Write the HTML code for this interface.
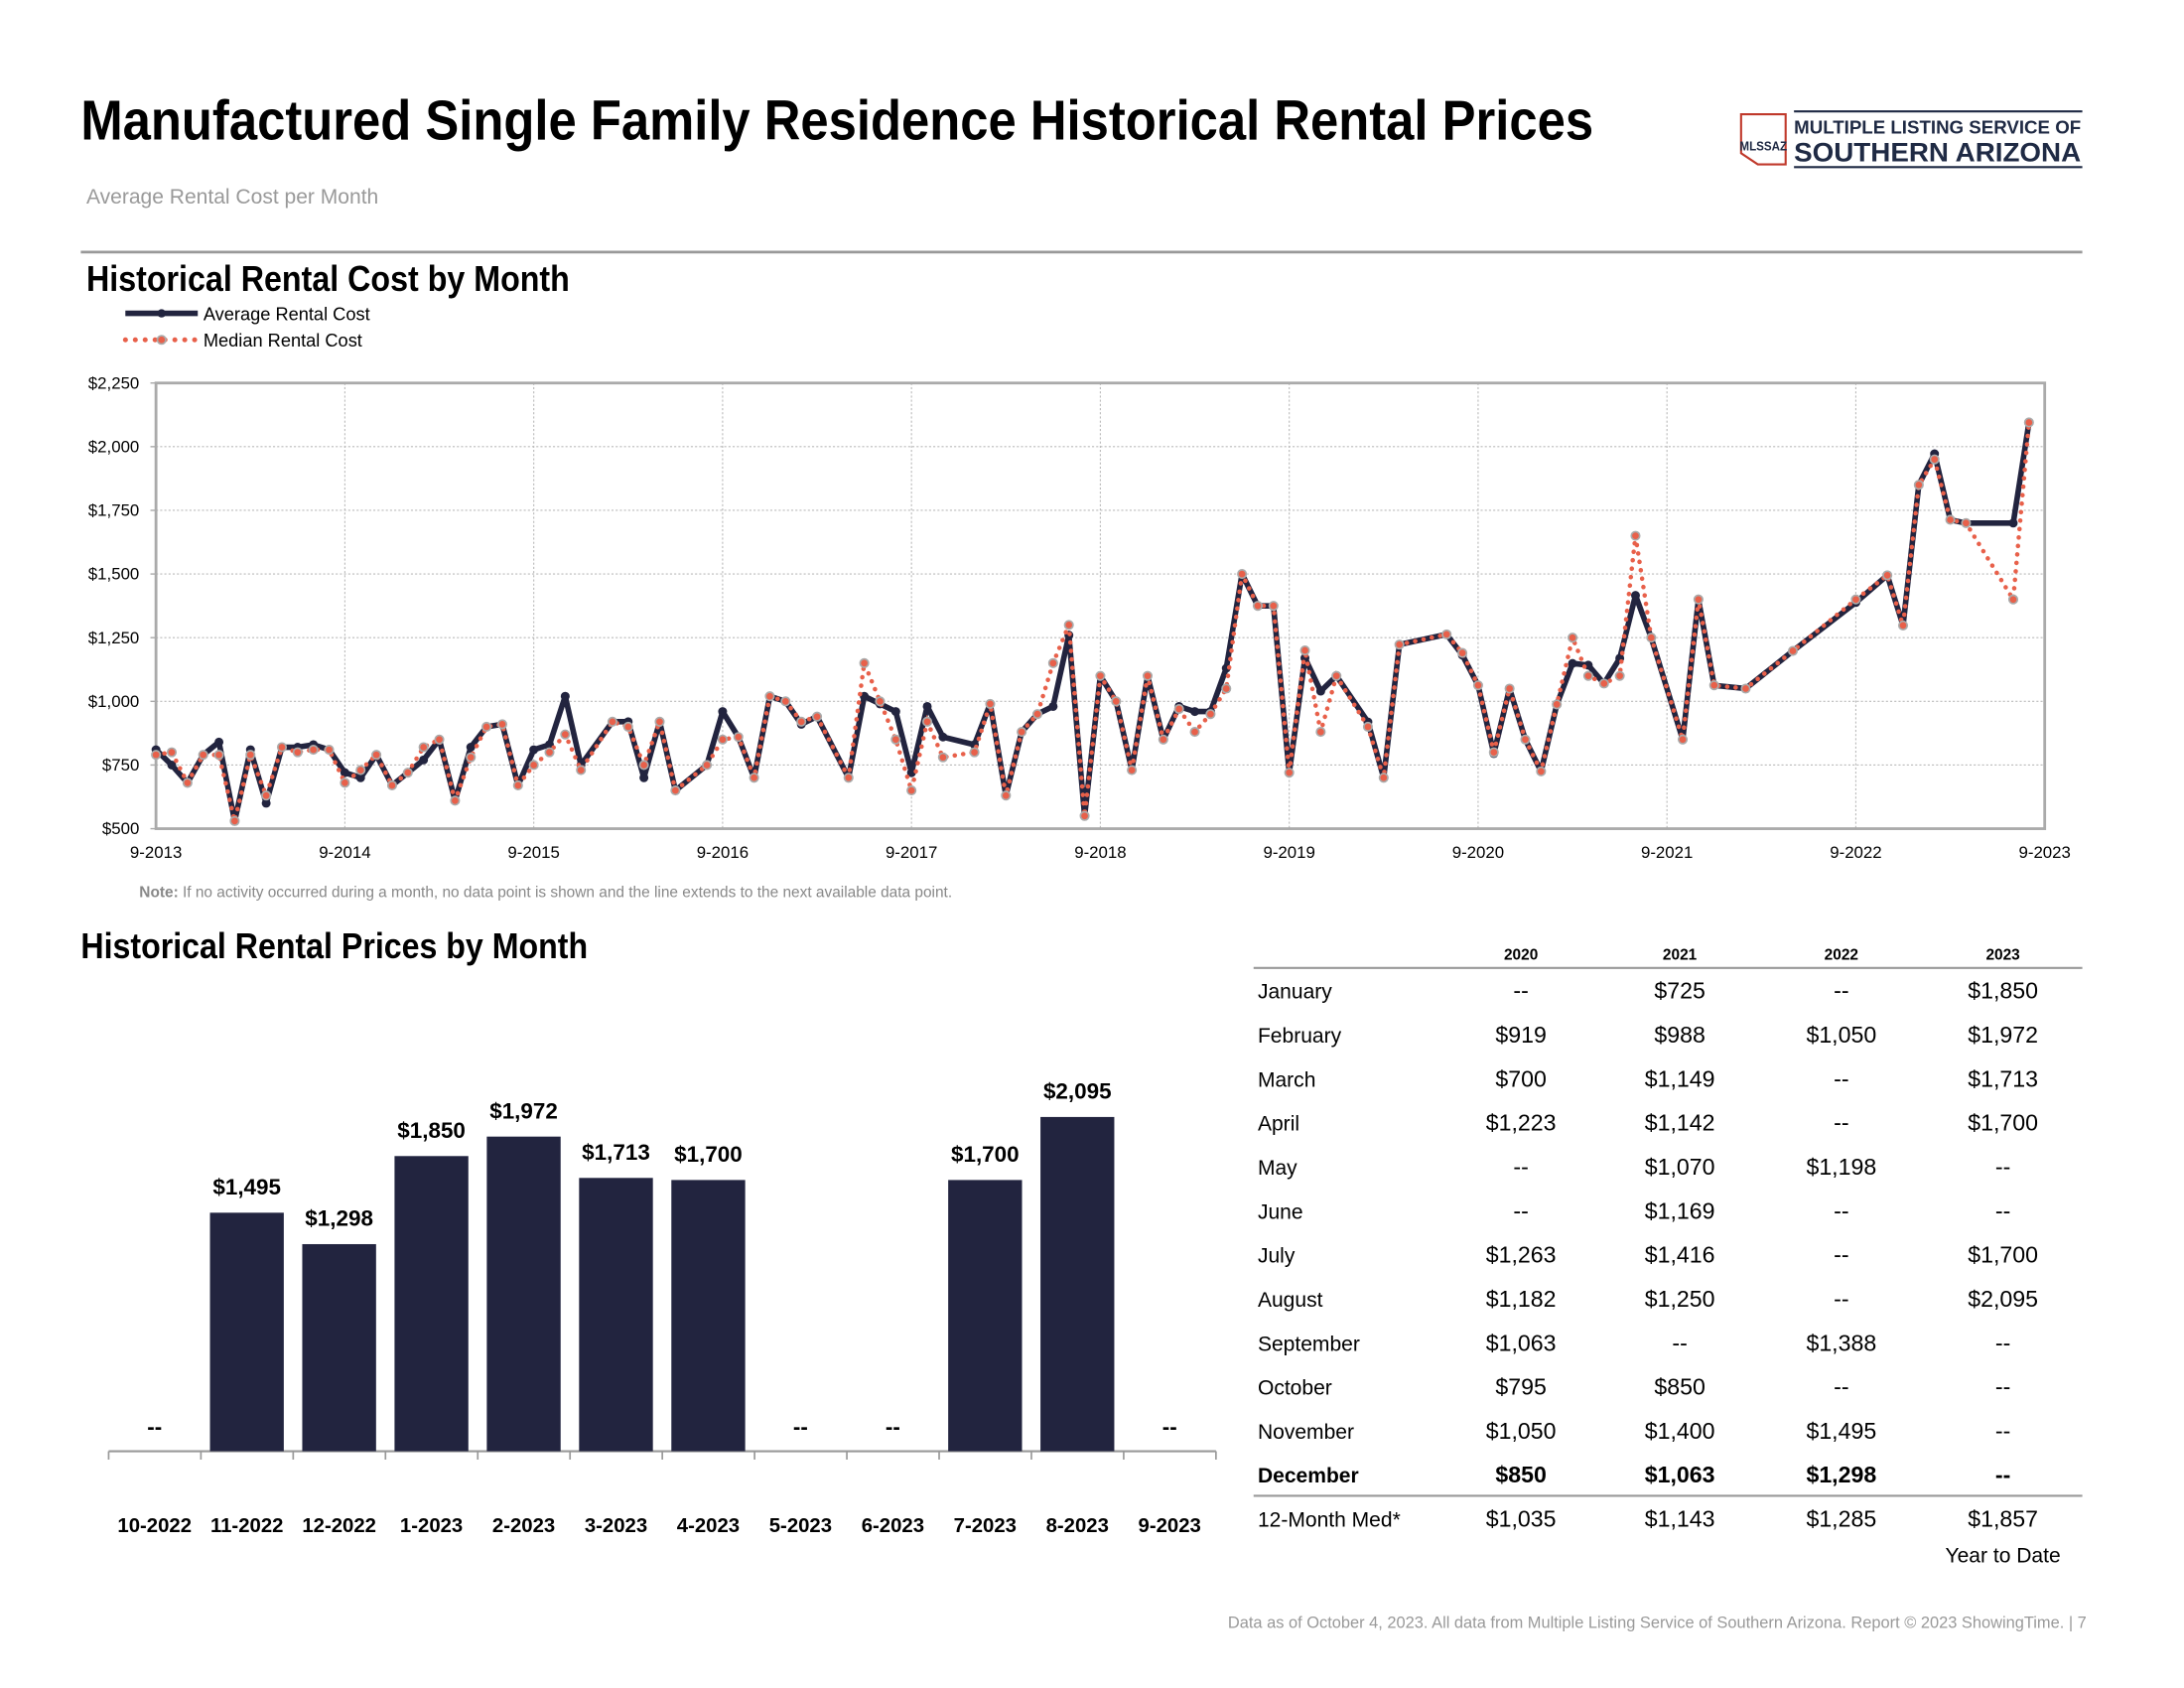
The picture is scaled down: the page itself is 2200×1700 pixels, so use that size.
<!DOCTYPE html>
<html><head><meta charset="utf-8"><style>
html,body{margin:0;padding:0;background:#fff;}
svg{display:block;font-family:"Liberation Sans",sans-serif;}
</style></head><body>
<svg id="s" width="2200" height="1700" viewBox="0 0 1568 1212" preserveAspectRatio="none" xmlns="http://www.w3.org/2000/svg">
<text x="58" y="100" font-size="40" font-weight="bold" font-family="'Liberation Sans Narrow','Liberation Sans',sans-serif" textLength="1086" lengthAdjust="spacingAndGlyphs" fill="#000">Manufactured Single Family Residence Historical Rental Prices</text>
<text x="62" y="146" font-size="15" fill="#999">Average Rental Cost per Month</text>
<g>
<path d="M1250 82 L1282 82 L1282 118 L1262 118 L1250 110 Z" fill="none" stroke="#c0392b" stroke-width="1.5"/>
<text x="1249" y="108" font-size="9" font-weight="bold" fill="#1f2a44" textLength="34" lengthAdjust="spacingAndGlyphs">MLSSAZ</text>
<text x="1288" y="96" font-size="13" font-weight="bold" fill="#1f2a44" textLength="206" lengthAdjust="spacingAndGlyphs">MULTIPLE LISTING SERVICE OF</text>
<text x="1288" y="116" font-size="19" font-weight="bold" fill="#1f2a44" textLength="206" lengthAdjust="spacingAndGlyphs">SOUTHERN ARIZONA</text>
<line x1="1288" y1="80" x2="1495" y2="80" stroke="#1f2a44" stroke-width="1.5"/>
<line x1="1288" y1="120" x2="1495" y2="120" stroke="#1f2a44" stroke-width="1.5"/>
</g>
<line x1="58" y1="181" x2="1495" y2="181" stroke="#999" stroke-width="2"/>
<text x="62" y="209" font-size="26" font-weight="bold" font-family="'Liberation Sans Narrow','Liberation Sans',sans-serif" textLength="347" lengthAdjust="spacingAndGlyphs">Historical Rental Cost by Month</text>
<line x1="90" y1="225" x2="142" y2="225" stroke="#22243f" stroke-width="4"/>
<circle cx="116" cy="225" r="3" fill="#22243f"/>
<text x="146" y="230" font-size="13">Average Rental Cost</text>
<line x1="90" y1="244" x2="142" y2="244" stroke="#e8604a" stroke-width="3.5" stroke-dasharray="0.1 7" stroke-linecap="round"/>
<circle cx="116" cy="244" r="3" fill="#e8604a" stroke="#aaa" stroke-width="1.2"/>
<text x="146" y="249" font-size="13">Median Rental Cost</text>
<g id="chart"></g>
<text x="100" y="644" font-size="11" fill="#888"><tspan font-weight="bold">Note:</tspan> If no activity occurred during a month, no data point is shown and the line extends to the next available data point.</text>
<text x="58" y="688" font-size="26" font-weight="bold" font-family="'Liberation Sans Narrow','Liberation Sans',sans-serif" textLength="364" lengthAdjust="spacingAndGlyphs">Historical Rental Prices by Month</text>
<g id="bars"></g>
<g id="table" font-size="15.5"></g>
<text x="1498" y="1169" font-size="11.7" fill="#999" text-anchor="end">Data as of October 4, 2023. All data from Multiple Listing Service of Southern Arizona. Report © 2023 ShowingTime.  |  7</text>
</svg>
<script>
const NS="http://www.w3.org/2000/svg";
function el(p,t,a,txt){const e=document.createElementNS(NS,t);for(const k in a)e.setAttribute(k,a[k]);if(txt!=null)e.textContent=txt;p.appendChild(e);return e;}
const ch=document.getElementById('chart');
const X0=112,X1=1468,Y0=595,Y1=275;
const xm=m=>X0+(X1-X0)*m/120, yv=v=>Y0-(v-500)*(Y0-Y1)/1750;
for(let v=500;v<=2250;v+=250){const y=yv(v);if(v>500&&v<2250)el(ch,'line',{x1:X0,x2:X1,y1:y,y2:y,stroke:'#bbb','stroke-width':0.8,'stroke-dasharray':'1.5 1.5'});
el(ch,'text',{x:100,y:y+4,'font-size':12,'text-anchor':'end'},'$'+v.toLocaleString('en-US'));
el(ch,'line',{x1:X0-4,x2:X0,y1:y,y2:y,stroke:'#aaa'});}
for(let i=0;i<=10;i++){const x=xm(i*12);if(i>0&&i<10)el(ch,'line',{x1:x,x2:x,y1:Y1,y2:Y0,stroke:'#bbb','stroke-width':0.8,'stroke-dasharray':'1.5 1.5'});
el(ch,'text',{x:x,y:616,'font-size':12,'text-anchor':'middle'},'9-'+(2013+i));}
el(ch,'rect',{x:X0,y:Y1,width:X1-X0,height:Y0-Y1,fill:'none',stroke:'#aaa','stroke-width':2});
const D=[[0,810,790],[1,750,800],[2,680,680],[3,790,790],[4,840,790],[5,530,530],[6,810,790],[7,600,630],[8,820,820],[9,820,800],[10,830,810],[11,810,810],[12,720,680],[13,700,730],[14,790,790],[15,670,670],[16,720,720],[17,770,820],[18,850,850],[19,610,610],[20,820,780],[21,900,900],[22,910,910],[23,670,670],[24,810,750],[25,830,800],[26,1020,870],[27,750,730],[29,920,920],[30,920,900],[31,700,750],[32,920,920],[33,650,650],[35,750,750],[36,960,850],[37,860,860],[38,700,700],[39,1020,1020],[40,1000,1000],[41,910,920],[42,940,940],[44,700,700],[45,1020,1150],[46,990,1000],[47,960,850],[48,720,650],[49,980,920],[50,860,780],[52,830,800],[53,990,990],[54,630,630],[55,880,880],[56,950,950],[57,980,1150],[58,1260,1300],[59,550,550],[60,1100,1100],[61,1000,1000],[62,730,730],[63,1100,1100],[64,850,850],[65,980,970],[66,960,880],[67,960,950],[68,1130,1050],[69,1500,1500],[70,1375,1375],[71,1375,1375],[72,720,720],[73,1170,1200],[74,1040,880],[75,1100,1100],[77,919,900],[78,700,700],[79,1223,1223],[82,1263,1263],[83,1182,1190],[84,1063,1063],[85,795,800],[86,1050,1050],[87,850,850],[88,725,725],[89,988,988],[90,1149,1250],[91,1142,1100],[92,1070,1070],[93,1169,1100],[94,1416,1650],[95,1250,1250],[97,850,850],[98,1400,1400],[99,1063,1063],[101,1050,1050],[104,1198,1198],[108,1388,1400],[110,1495,1495],[111,1298,1298],[112,1850,1850],[113,1972,1950],[114,1713,1713],[115,1700,1700],[118,1700,1400],[119,2095,2095]];
const pa=D.map(d=>xm(d[0]).toFixed(1)+','+yv(d[1]).toFixed(1)).join(' ');
const pm=D.map(d=>xm(d[0]).toFixed(1)+','+yv(d[2]).toFixed(1)).join(' ');
el(ch,'polyline',{points:pa,fill:'none',stroke:'#22243f','stroke-width':4,'stroke-linejoin':'round'});
D.forEach(d=>el(ch,'circle',{cx:xm(d[0]),cy:yv(d[1]),r:3.2,fill:'#22243f'}));
el(ch,'polyline',{points:pm,fill:'none',stroke:'#e8604a','stroke-width':3.2,'stroke-dasharray':'0.1 6','stroke-linecap':'round'});
D.forEach(d=>el(ch,'circle',{cx:xm(d[0]),cy:yv(d[2]),r:3,fill:'#e8604a',stroke:'#aaa','stroke-width':1.2}));
const B=document.getElementById('bars');
const labs=['10-2022','11-2022','12-2022','1-2023','2-2023','3-2023','4-2023','5-2023','6-2023','7-2023','8-2023','9-2023'];
const vals=[null,1495,1298,1850,1972,1713,1700,null,null,1700,2095,null];
const base=1042,sc=(1042-802)/2095;
el(B,'line',{x1:78,x2:873,y1:base,y2:base,stroke:'#999','stroke-width':1.5});
for(let i=0;i<=12;i++){const x=78+i*66.25;el(B,'line',{x1:x,x2:x,y1:base,y2:base+6,stroke:'#999','stroke-width':1.2});}
labs.forEach((l,i)=>{const cx=111+i*66.25;
el(B,'text',{x:cx,y:1100,'font-size':14.5,'font-weight':'bold','text-anchor':'middle'},l);
const v=vals[i];
if(v==null){el(B,'text',{x:cx,y:1030,'font-size':16,'font-weight':'bold','text-anchor':'middle'},'--');}
else{const h=v*sc;el(B,'rect',{x:cx-26.5,y:base-h,width:53,height:h,fill:'#22243f'});
el(B,'text',{x:cx,y:base-h-13,'font-size':16,'font-weight':'bold','text-anchor':'middle'},'$'+v.toLocaleString('en-US'));}});
const T=document.getElementById('table');
const cols=[1092,1206,1322,1438];
['2020','2021','2022','2023'].forEach((y,i)=>el(T,'text',{x:cols[i],y:689,'font-size':11,'font-weight':'bold','text-anchor':'middle'},y));
el(T,'line',{x1:900,x2:1495,y1:695,y2:695,stroke:'#999','stroke-width':1.5});
const rows=[['January','--','$725','--','$1,850'],['February','$919','$988','$1,050','$1,972'],['March','$700','$1,149','--','$1,713'],['April','$1,223','$1,142','--','$1,700'],['May','--','$1,070','$1,198','--'],['June','--','$1,169','--','--'],['July','$1,263','$1,416','--','$1,700'],['August','$1,182','$1,250','--','$2,095'],['September','$1,063','--','$1,388','--'],['October','$795','$850','--','--'],['November','$1,050','$1,400','$1,495','--'],['December','$850','$1,063','$1,298','--'],['12-Month Med*','$1,035','$1,143','$1,285','$1,857']];
rows.forEach((r,i)=>{const y=717+i*31.6;const b=i==11?{'font-weight':'bold'}:{};
el(T,'text',Object.assign({x:903,y:y,'font-size':15},b),r[0]);
for(let j=1;j<5;j++)el(T,'text',Object.assign({x:cols[j-1],y:y,'font-size':16.5,'text-anchor':'middle'},b),r[j]);});
el(T,'line',{x1:900,x2:1495,y1:1074,y2:1074,stroke:'#999','stroke-width':1.5});
el(T,'text',{x:1438,y:1122,'font-size':15,'text-anchor':'middle'},'Year to Date');
</script>
</body></html>
